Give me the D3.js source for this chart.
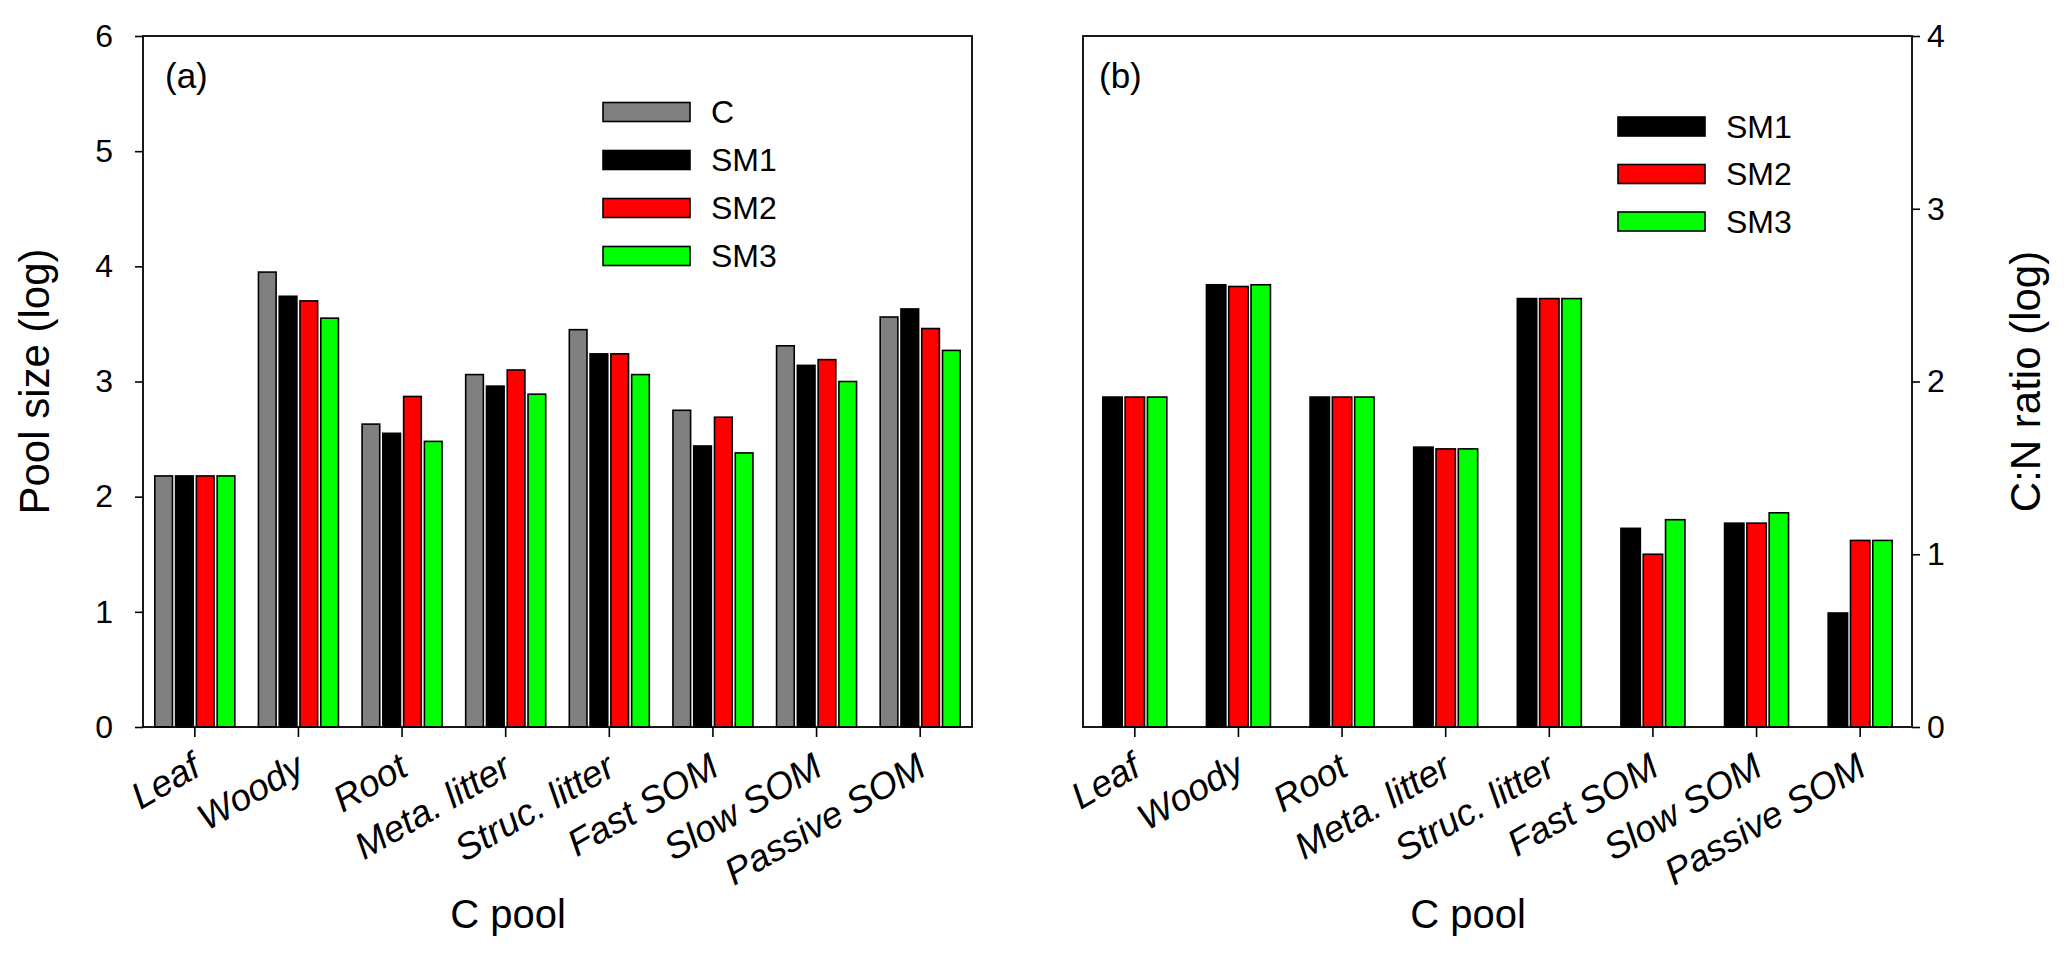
<!DOCTYPE html>
<html>
<head>
<meta charset="utf-8">
<script src="https://cdn.jsdelivr.net/npm/d3@7"></script>
<style>
  body { margin: 0; background: #fff; }
  svg text { font-family: "Liberation Sans", Arial, sans-serif; fill: #000; }
</style>
</head>
<body>
<div id="chart"></div>
<script>
// categories and values
const categories = ["Leaf", "Woody", "Root", "Meta. litter", "Struc. litter", "Fast SOM", "Slow SOM", "Passive SOM"];

// (a) pool size (log)
const poolC   = [2.18, 3.95, 2.63, 3.06, 3.45, 2.75, 3.31, 3.56];
const poolSM1 = [2.18, 3.74, 2.55, 2.96, 3.24, 2.44, 3.14, 3.63];
const poolSM2 = [2.18, 3.70, 2.87, 3.10, 3.24, 2.69, 3.19, 3.46];
const poolSM3 = [2.18, 3.55, 2.48, 2.89, 3.06, 2.38, 3.00, 3.27];

// (b) C:N ratio (log)
const cnSM1 = [1.91, 2.56, 1.91, 1.62, 2.48, 1.15, 1.18, 0.66];
const cnSM2 = [1.91, 2.55, 1.91, 1.61, 2.48, 1.00, 1.18, 1.08];
const cnSM3 = [1.91, 2.56, 1.91, 1.61, 2.48, 1.20, 1.24, 1.08];

const poolTicks = [0, 1, 2, 3, 4, 5, 6];
const cnTicks = [0, 1, 2, 3, 4];

const colors = { "C": "#808080", "SM1": "#000000", "SM2": "#ff0000", "SM3": "#00ff00" };

const W = 2067, H = 969;
const plotTop = 36, plotBottom = 727;

const svg = d3.select('#chart').append('svg')
    .attr('width', W)
    .attr('height', H);

function drawPanel(opts) {
    const g = svg.append('g');
    const x = d3.scaleBand().domain(categories).range([opts.left, opts.right]);
    const y = d3.scaleLinear().domain([0, opts.max]).range([plotBottom, plotTop]);
    const inner = d3.scaleBand().domain(opts.series.map(s => s.name))
        .range([-opts.groupW / 2, opts.groupW / 2])
        .paddingInner(opts.pad);

    // bars
    const groups = g.selectAll('.grp')
        .data(categories)
        .enter().append('g')
        .attr('transform', c => `translate(${x(c) + x.bandwidth() / 2},0)`);

    groups.selectAll('rect')
        .data((c, i) => opts.series.map(s => ({ name: s.name, v: s.values[i] })))
        .enter().append('rect')
        .attr('x', d => inner(d.name))
        .attr('width', inner.bandwidth())
        .attr('y', d => y(d.v))
        .attr('height', d => plotBottom - y(d.v))
        .attr('fill', d => colors[d.name])
        .attr('stroke', '#000')
        .attr('stroke-width', 1.6);

    // frame
    g.append('rect')
        .attr('x', opts.left).attr('y', plotTop)
        .attr('width', opts.right - opts.left).attr('height', plotBottom - plotTop)
        .attr('fill', 'none').attr('stroke', '#000').attr('stroke-width', 1.8);

    // y axis
    const yAxis = (opts.side === 'left' ? d3.axisLeft(y) : d3.axisRight(y))
        .tickValues(opts.ticks).tickSize(8).tickPadding(opts.side === 'left' ? 22 : 7)
        .tickFormat(d3.format('d'));
    const ya = g.append('g')
        .attr('transform', `translate(${opts.side === 'left' ? opts.left : opts.right},0)`)
        .call(yAxis);
    ya.select('.domain').remove();
    ya.selectAll('line').attr('stroke', '#000').attr('stroke-width', 1.6);
    ya.selectAll('text').style('font-size', '32px');

    // x axis
    const xa = g.append('g')
        .attr('transform', `translate(0,${plotBottom})`)
        .call(d3.axisBottom(x).tickSize(10).tickFormat(''));
    xa.select('.domain').remove();
    xa.selectAll('line').attr('stroke', '#000').attr('stroke-width', 1.6);

    g.selectAll('.cat')
        .data(categories)
        .enter().append('text')
        .attr('class', 'cat')
        .attr('text-anchor', 'end')
        .attr('font-style', 'italic')
        .style('font-size', '37px')
        .attr('transform', c => `translate(${x(c) + x.bandwidth() / 2 + 8},774) rotate(-30)`)
        .text(c => c);

    // axis titles
    g.append('text')
        .attr('x', opts.xTitleX).attr('y', 928)
        .attr('text-anchor', 'middle')
        .style('font-size', '40px')
        .text('C pool');

    g.append('text')
        .attr('transform', `translate(${opts.yTitleX},${(plotTop + plotBottom) / 2}) rotate(-90)`)
        .attr('text-anchor', 'middle')
        .style('font-size', '42px')
        .text(opts.yTitle);

    // panel tag
    g.append('text')
        .attr('x', opts.tagX).attr('y', 88)
        .style('font-size', '35px')
        .text(opts.tag);

    // legend
    const leg = g.selectAll('.leg')
        .data(opts.series)
        .enter().append('g')
        .attr('transform', (d, i) => `translate(${opts.legX},${opts.legY + i * opts.legStep})`);
    leg.append('rect')
        .attr('x', 0).attr('y', -9.5)
        .attr('width', 87).attr('height', 19)
        .attr('fill', d => colors[d.name])
        .attr('stroke', '#000').attr('stroke-width', 1.6);
    leg.append('text')
        .attr('x', 108).attr('y', 11)
        .style('font-size', '32px')
        .text(d => d.name);
}

drawPanel({
    left: 143, right: 972, max: 6, ticks: poolTicks, side: 'left',
    series: [
        { name: 'C', values: poolC },
        { name: 'SM1', values: poolSM1 },
        { name: 'SM2', values: poolSM2 },
        { name: 'SM3', values: poolSM3 }
    ],
    groupW: 80, pad: 0.15,
    xTitleX: 508, yTitleX: 49, yTitle: 'Pool size (log)',
    tag: '(a)', tagX: 165,
    legX: 603, legY: 112, legStep: 48
});

drawPanel({
    left: 1083, right: 1912, max: 4, ticks: cnTicks, side: 'right',
    series: [
        { name: 'SM1', values: cnSM1 },
        { name: 'SM2', values: cnSM2 },
        { name: 'SM3', values: cnSM3 }
    ],
    groupW: 64, pad: 0.13,
    xTitleX: 1468, yTitleX: 2040, yTitle: 'C:N ratio (log)',
    tag: '(b)', tagX: 1099,
    legX: 1618, legY: 126.5, legStep: 47.5
});
</script>
</body>
</html>
